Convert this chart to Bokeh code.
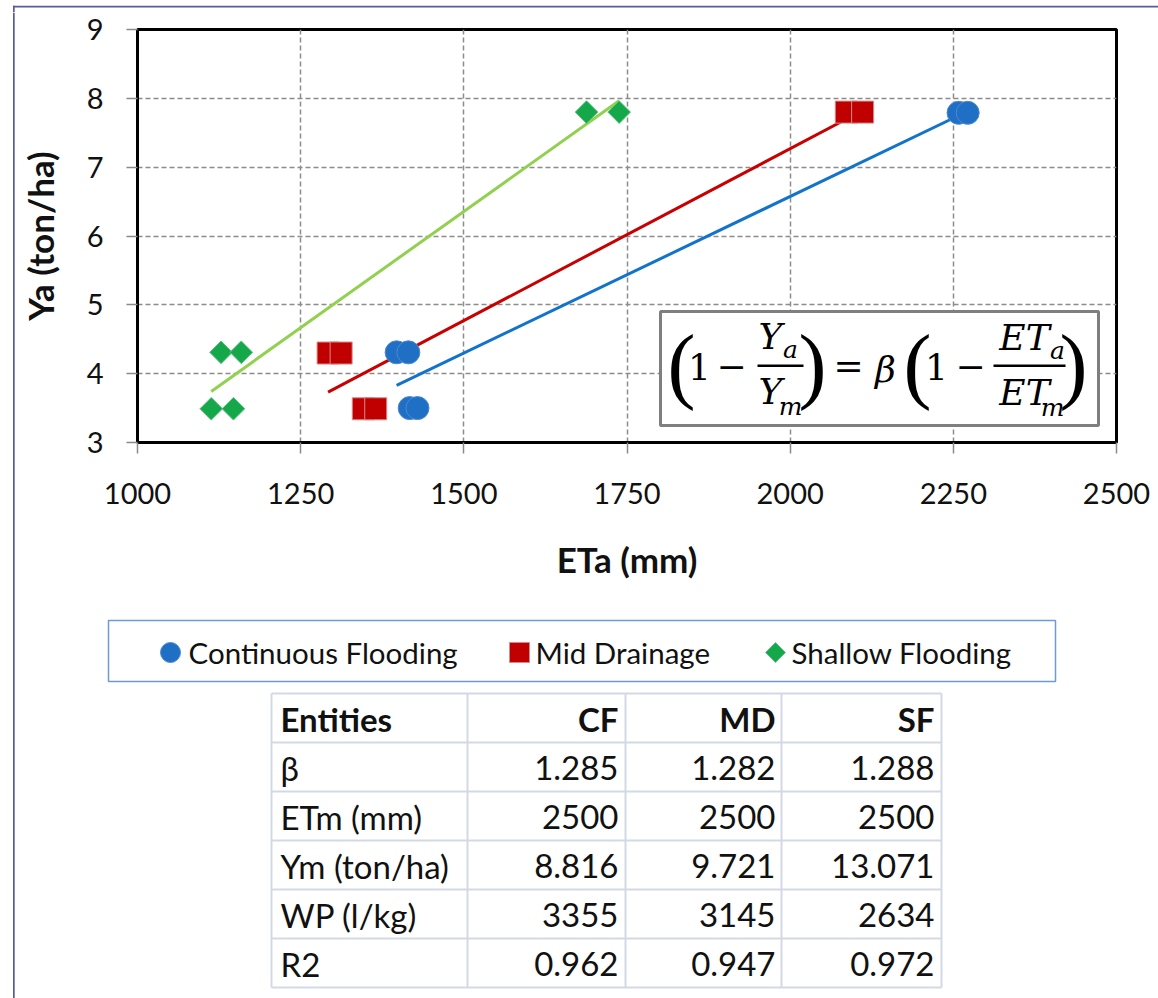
import numpy as np
from bokeh.plotting import figure
from bokeh.models import Range1d, FixedTicker, BoxAnnotation, Label
from bokeh.layouts import column, row
from bokeh.core.properties import value
from bokeh.embed import file_html
from bokeh.resources import INLINE

# ---------------- data ----------------
eta_ticks = [1000, 1250, 1500, 1750, 2000, 2250, 2500]
ya_ticks = [3, 4, 5, 6, 7, 8, 9]

cf_eta = [1397, 1415, 1417, 1429, 2258, 2272]
cf_ya = [4.31, 4.31, 3.50, 3.50, 7.79, 7.79]
md_eta = [1292, 1312, 1346, 1365, 2086, 2111]
md_ya = [4.30, 4.30, 3.49, 3.49, 7.80, 7.80]
sf_eta = [1128, 1159, 1113, 1147, 1688, 1738]
sf_ya = [4.31, 4.31, 3.49, 3.49, 7.80, 7.80]

series_names = ["Continuous Flooding", "Mid Drainage", "Shallow Flooding"]

table_header = ["Entities", "CF", "MD", "SF"]
table_rows = ["β", "ETm (mm)", "Ym (ton/ha)", "WP (l/kg)", "R2"]
table_cf = ["1.285", "2500", "8.816", "3355", "0.962"]
table_md = ["1.282", "2500", "9.721", "3145", "0.947"]
table_sf = ["1.288", "2500", "13.071", "2634", "0.972"]

# ---------------- styles ----------------
PAGE_W, PAGE_H = 1158, 998
STRIP_W, STRIP_H = 15, 12
CHART_BOTTOM = 610
FONT = "Lato"
TXT = "#111111"
MATH = "DejaVu Serif"
PAREN = "Liberation Serif"
FRAME_COL = "#5B5B96"

CF_FILL, CF_LINE, CF_TREND = "#1F6FC5", "#4C88D2", "#1273CC"
MD_FILL, MD_LINE, MD_TREND = "#C00000", "#D68A8A", "#C80000"
SF_FILL, SF_LINE, SF_TREND = "#14A84A", "#5CC27F", "#92D050"


def blank(w, h, x0, x1, y0, y1):
    f = figure(width=w, height=h, x_range=Range1d(x0, x1), y_range=Range1d(y1, y0),
               output_backend="svg", toolbar_location=None, min_border=0,
               x_axis_type=None, y_axis_type=None, frame_align=False)
    f.grid.visible = False
    f.outline_line_color = None
    f.background_fill_color = "white"
    f.border_fill_color = "white"
    return f


# top strip (outer frame top edge)
top = blank(PAGE_W, STRIP_H, 0, PAGE_W, 0, STRIP_H)
top.quad(left=[12.5], right=[PAGE_W], top=[5.2], bottom=[7.0], fill_color=FRAME_COL, line_color=None)
top.quad(left=[12.5], right=[14.2], top=[5.2], bottom=[STRIP_H], fill_color=FRAME_COL, line_color=None)

# left strip (outer frame left edge)
left = blank(STRIP_W, PAGE_H - STRIP_H, 0, STRIP_W, STRIP_H, PAGE_H)
left.quad(left=[12.5], right=[14.2], top=[STRIP_H], bottom=[PAGE_H], fill_color=FRAME_COL, line_color=None)

# ---------------- chart ----------------
p = figure(width=PAGE_W - STRIP_W, height=CHART_BOTTOM - STRIP_H,
           x_range=Range1d(1000, 2500), y_range=Range1d(3, 9),
           output_backend="svg", toolbar_location=None, frame_align=False,
           min_border_left=137 - STRIP_W, min_border_right=PAGE_W - 1116,
           min_border_top=29 - STRIP_H, min_border_bottom=CHART_BOTTOM - 442)
p.background_fill_color = "white"
p.border_fill_color = "white"
p.outline_line_color = "black"
p.outline_line_width = 3

p.xaxis.ticker = FixedTicker(ticks=eta_ticks)
p.yaxis.ticker = FixedTicker(ticks=ya_ticks)
p.xaxis.axis_label = "ETa (mm)"
p.yaxis.axis_label = "Ya (ton/ha)"
for ax in (p.xaxis[0], p.yaxis[0]):
    ax.axis_line_color = "black"
    ax.axis_line_width = 3
    ax.major_tick_line_color = "#8A8A8A"
    ax.major_tick_line_width = 1.5
    ax.major_tick_out = 11
    ax.major_tick_in = 0
    ax.minor_tick_line_color = None
    ax.major_label_text_font = FONT
    ax.major_label_text_font_size = "29px"
    ax.major_label_text_color = TXT
    ax.axis_label_text_font = FONT
    ax.axis_label_text_font_size = "35px"
    ax.axis_label_text_font_style = "bold"
    ax.axis_label_text_color = TXT
p.xaxis.major_label_standoff = 29
p.yaxis.major_label_standoff = 23
p.xaxis.axis_label_standoff = 31
p.yaxis.axis_label_standoff = 23

p.grid.grid_line_color = "#8C8C8C"
p.grid.grid_line_dash = "5 3"
p.grid.grid_line_width = 1.5

# trend lines (least squares fit of each series)
for xs, ys, col in ((sf_eta, sf_ya, SF_TREND), (md_eta, md_ya, MD_TREND), (cf_eta, cf_ya, CF_TREND)):
    k, b = np.polyfit(xs, ys, 1)
    xe = np.array([min(xs), max(xs)], dtype=float)
    p.line(xe, k * xe + b, line_color=col, line_width=3)

p.scatter(cf_eta, cf_ya, marker="circle", size=23, fill_color=CF_FILL, line_color=CF_LINE, line_width=1)
p.scatter(md_eta, md_ya, marker="square", size=22, fill_color=MD_FILL, line_color=MD_LINE, line_width=1)
p.scatter(sf_eta, sf_ya, marker="square", angle=np.pi / 4, size=16, fill_color=SF_FILL, line_color=SF_LINE, line_width=1)

# positions relative to the frame (frame left = 137, bottom = 442 in page coordinates)
FL, FB = 137, 442
def sx(X):
    return X - FL
def sy(Y):
    return FB - Y

def box(fig, l, r, t, b, fill, line=None, lw=0):
    fig.add_layout(BoxAnnotation(left=sx(l), right=sx(r), top=sy(t), bottom=sy(b),
                                 left_units="screen", right_units="screen",
                                 top_units="screen", bottom_units="screen",
                                 fill_color=fill, fill_alpha=1.0,
                                 line_color=line, line_width=lw, line_alpha=1.0))

def lab(fig, X, Y, text, size, font=MATH, style="normal", align="center"):
    fig.add_layout(Label(x=sx(X), y=sy(Y), x_units="screen", y_units="screen", text=text,
                         text_font=font, text_font_size=f"{size}px", text_font_style=style,
                         text_align=align, text_baseline="middle", text_color="black"))

# equation box
box(p, 660, 1098, 311, 425, "white", "#7F7F7F", 3)
lab(p, 681, 364, "(", 84, PAREN)
lab(p, 699, 366, "1", 36)
lab(p, 731, 365, "\u2212", 36)
lab(p, 770, 336, "Y", 36, style="italic")
lab(p, 790, 349, "a", 25, style="italic")
box(p, 757, 803, 364, 366.5, "black")
lab(p, 770, 391, "Y", 36, style="italic")
lab(p, 790, 406, "m", 25, style="italic")
lab(p, 812, 364, ")", 84, PAREN)
lab(p, 848, 365, "=", 36)
lab(p, 885, 369, "\u03b2", 36, style="italic")
lab(p, 917, 364, "(", 84, PAREN)
lab(p, 936, 366, "1", 36)
lab(p, 970, 365, "\u2212", 36)
lab(p, 1024, 337, "ET", 36, style="italic")
lab(p, 1057, 350, "a", 25, style="italic")
box(p, 993, 1065, 364, 366.5, "black")
lab(p, 1024, 392, "ET", 36, style="italic")
lab(p, 1052, 407, "m", 25, style="italic")
lab(p, 1073, 364, ")", 84, PAREN)

# ---------------- legend + table (page coordinates) ----------------
q = blank(PAGE_W - STRIP_W, PAGE_H - CHART_BOTTOM, STRIP_W, PAGE_W, CHART_BOTTOM, PAGE_H)

# legend
q.quad(left=[108], right=[1055], top=[620], bottom=[681], fill_color="white",
       line_color="#6E9BD3", line_width=1.5)
q.scatter([170], [652], marker="circle", size=20, fill_color=CF_FILL, line_color=CF_LINE, line_width=1)
q.scatter([519], [652], marker="square", size=20, fill_color=MD_FILL, line_color=MD_LINE, line_width=1)
q.scatter([775], [652], marker="square", angle=np.pi / 4, size=14, fill_color=SF_FILL, line_color=SF_LINE, line_width=1)
q.text(x=[188, 535, 791], y=[652, 652, 652], text=series_names,
       text_font=value(FONT), text_font_size=value("29.5px"), text_color=TXT,
       text_align="left", text_baseline="middle")

# table
col_x = [271, 467, 625, 781, 941]
row_y = [693, 742, 791, 840, 889, 938, 987]
GRID = "#D3D9E4"
q.segment(x0=[col_x[0]] * len(row_y), x1=[col_x[-1]] * len(row_y), y0=row_y, y1=row_y,
          line_color=GRID, line_width=2)
q.segment(x0=col_x, x1=col_x, y0=[row_y[0]] * len(col_x), y1=[row_y[-1]] * len(col_x),
          line_color=GRID, line_width=2)

centers = [(row_y[i] + row_y[i + 1]) / 2 + 1 for i in range(len(row_y) - 1)]
right_x = [618, 775, 934]
TFS = "33px"
q.text(x=[280], y=[centers[0]], text=[table_header[0]], text_font=value(FONT), text_font_size=value(TFS),
       text_font_style="bold", text_color=TXT, text_align="left", text_baseline="middle")
q.text(x=right_x, y=[centers[0]] * 3, text=table_header[1:], text_font=value(FONT), text_font_size=value(TFS),
       text_font_style="bold", text_color=TXT, text_align="right", text_baseline="middle")
q.text(x=[280] * len(table_rows), y=centers[1:], text=table_rows, text_font=value(FONT),
       text_font_size=value(TFS), text_color=TXT, text_align="left", text_baseline="middle")
for xr, vals in zip(right_x, (table_cf, table_md, table_sf)):
    q.text(x=[xr] * len(vals), y=centers[1:], text=vals, text_font=value(FONT),
           text_font_size=value(TFS), text_color=TXT, text_align="right", text_baseline="middle")

layout = column(top, row(left, column(p, q)))
open("out.html", "w").write(file_html(layout, INLINE))
